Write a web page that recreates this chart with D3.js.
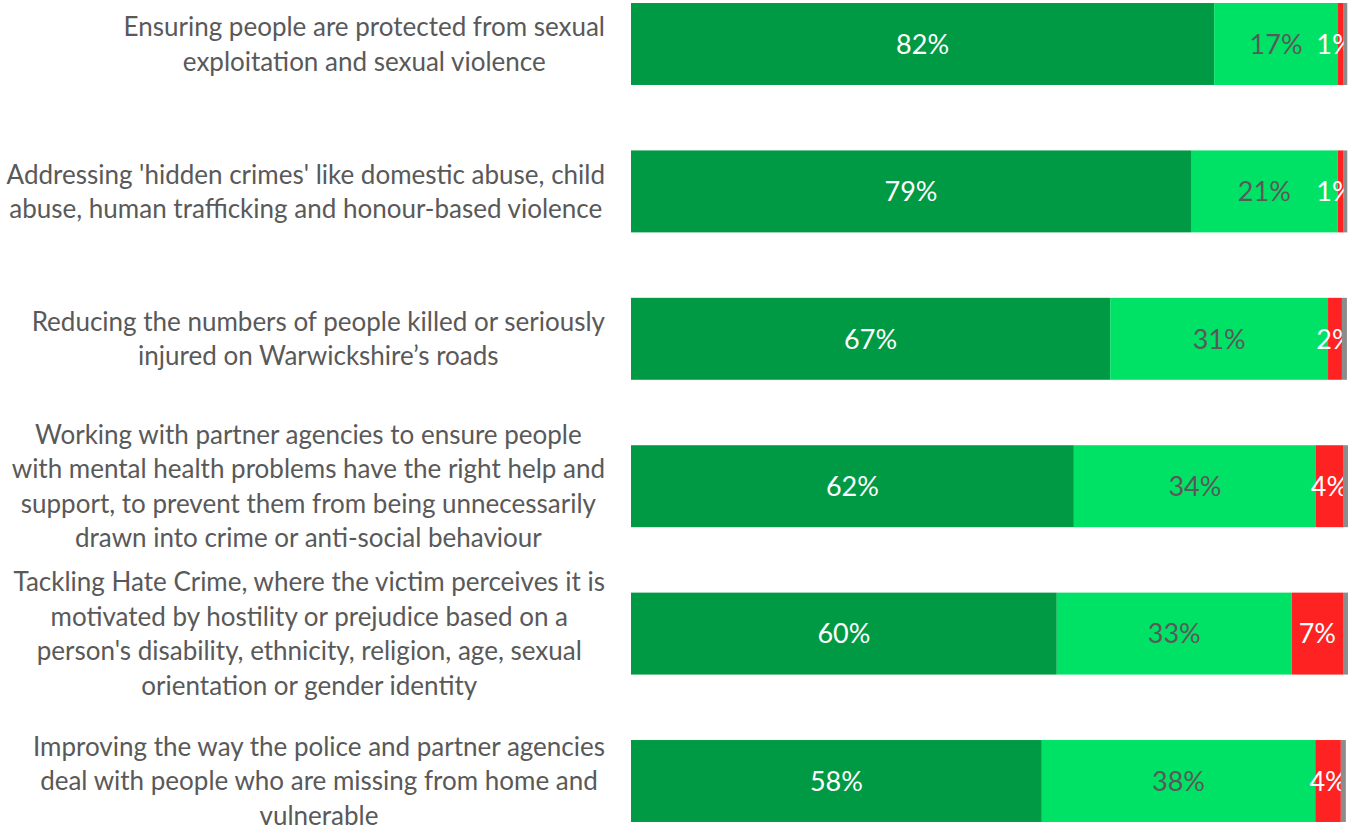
<!DOCTYPE html>
<html>
<head>
<meta charset="utf-8">
<script src="https://cdn.jsdelivr.net/npm/d3@7"></script>
<style>
  html, body { margin: 0; padding: 0; background: #ffffff; }
  svg { display: block; }
</style>
</head>
<body>
<svg id="chart" width="1348" height="828"></svg>
<script>
// ---- data ----
const categories = [
  ["Ensuring people are protected from sexual", "exploitation and sexual violence"],
  ["Addressing 'hidden crimes' like domestic abuse, child", "abuse, human trafficking and honour-based violence"],
  ["Reducing the numbers of people killed or seriously", "injured on Warwickshire\u2019s roads"],
  ["Working with partner agencies to ensure people", "with mental health problems have the right help and", "support, to prevent them from being unnecessarily", "drawn into crime or anti-social behaviour"],
  ["Tackling Hate Crime, where the victim perceives it is", "motivated by hostility or prejudice based on a", "person's disability, ethnicity, religion, age, sexual", "orientation or gender identity"],
  ["Improving the way the police and partner agencies", "deal with people who are missing from home and", "vulnerable"]
];
const seriesNames = ["Strongly", "Somewhat", "Not", "Unknown"];
const strongValues = [81.9, 78.65, 67.3, 62.2, 59.8, 57.7];
const somewhatValues = [17.4, 20.6, 30.6, 34.0, 33.0, 38.4];
const notValues = [0.8, 0.85, 1.95, 3.8, 7.2, 3.6];
const unknownValues = [0.5, 0.5, 0.7, 0.7, 0.7, 0.7];
const seriesColors = ["#009A44", "#00E266", "#FF2222", "#8C8C8C"];
const labelColors = ["#ffffff", "#595959", "#ffffff", null];

// ---- layout ----
const svg = d3.select("#chart");
const x = d3.scaleLinear().domain([0, 100]).range([631, 1343]);
const y = d3.scaleBand()
  .domain(d3.range(categories.length))
  .range([-29.7, 854.7])
  .paddingInner(0.444)
  .paddingOuter(0.222);

const seriesValues = [strongValues, somewhatValues, notValues, unknownValues];
const rows = categories.map((c, i) => {
  const o = { idx: i };
  seriesNames.forEach((s, k) => o[s] = seriesValues[k][i]);
  return o;
});
const stacked = d3.stack().keys(seriesNames)(rows);

const fontFam = "Lato, 'Open Sans', sans-serif";
const labelMaxX = 1335;

stacked.forEach((layer, k) => {
  const g = svg.append("g");
  g.selectAll("rect").data(layer).enter().append("rect")
    .attr("x", d => x(d[0]))
    .attr("y", d => y(d.data.idx))
    .attr("width", d => x(d[1]) - x(d[0]))
    .attr("height", y.bandwidth())
    .attr("fill", seriesColors[k]);
  if (labelColors[k]) {
    g.selectAll("text").data(layer).enter().append("text")
      .attr("x", d => Math.min((x(d[0]) + x(d[1])) / 2, labelMaxX))
      .attr("y", d => y(d.data.idx) + y.bandwidth() / 2)
      .attr("dy", "0.36em")
      .attr("text-anchor", "middle")
      .attr("font-family", fontFam)
      .attr("font-size", 27)
      .attr("fill", labelColors[k])
      .text(d => Math.round(d[1] - d[0]) + "%");
  }
});

// category labels: centred text blocks whose widest line ends at x = 605
const lineH = 34.5;
categories.forEach((lines, i) => {
  const g = svg.append("g");
  const cy = y(i) + y.bandwidth() / 2;
  const texts = lines.map((ln, j) => g.append("text")
    .attr("y", cy + (j - (lines.length - 1) / 2) * lineH)
    .attr("dy", "0.36em")
    .attr("text-anchor", "middle")
    .attr("font-family", fontFam)
    .attr("font-size", 26)
    .attr("fill", "#595959")
    .text(ln));
  const maxW = d3.max(texts, t => t.node().getComputedTextLength());
  const cx = 605 - maxW / 2;
  texts.forEach(t => t.attr("x", cx));
});
</script>
</body>
</html>
